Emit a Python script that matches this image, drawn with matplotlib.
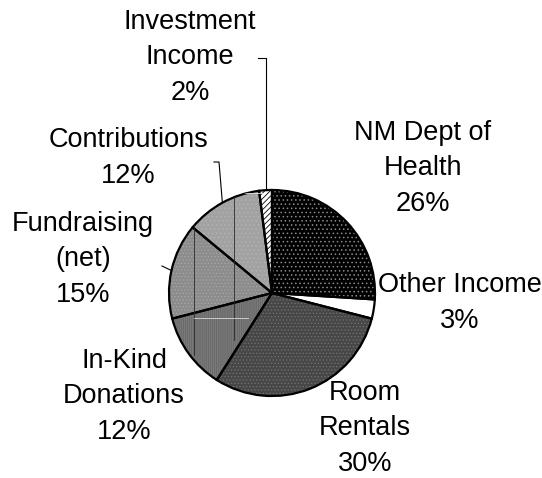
import numpy as np
import matplotlib
matplotlib.use('Agg')
import matplotlib.pyplot as plt
from matplotlib.patches import Circle

labels = ['NM Dept of\nHealth', 'Other Income', 'Room\nRentals', 'In-Kind\nDonations',
          'Fundraising\n(net)', 'Contributions', 'Investment\nIncome']
shares = [26, 3, 30, 12, 15, 12, 2]

faces = ['#000000', '#ffffff', '#474747', '#6a6a6a', '#8c8c8c', '#a2a2a2', '#ffffff']
hatches = ['....', '', '.....', '||||||||', '.....', '....', '//////']
hatch_cols = ['#8a8a8a', '#ffffff', '#6e6e6e', '#7e7e7e', '#a4a4a4', '#b2b2b2', '#000000']

# baseline of the last line of each label, pixels from top-left
label_px = [(423, 211), (460, 328), (365, 471), (124, 439), (83, 302), (128, 183), (190, 100)]

W, H = 542, 478
cx, cy, R = 272, 293, 103

plt.rcParams['font.family'] = ['Liberation Sans', 'DejaVu Sans']
plt.rcParams['hatch.linewidth'] = 0.6

fig = plt.figure(figsize=(W / 100, H / 100), dpi=100)
ax = fig.add_axes([0, 0, 1, 1])

def flip(ws):
    # y axis runs downwards, so mirror the wedge angles
    for w in ws:
        t1, t2 = w.theta1, w.theta2
        w.set_theta1(-t2)
        w.set_theta2(-t1)

wedges, _ = ax.pie(shares, startangle=90, counterclock=False, radius=R, center=(cx, cy),
                   colors=faces, wedgeprops=dict(linewidth=0), frame=True)
flip(wedges)
for w, h, hc in zip(wedges, hatches, hatch_cols):
    w.set_hatch(h)
    w.set_edgecolor(hc)

# scan-line streaks seen inside the left part of the pie
clip = Circle((cx, cy), R, transform=ax.transData, facecolor='none', edgecolor='none')
ax.add_patch(clip)
streaks = [([194, 194], [215, 355], '#2a2a2a'), ([234, 234], [190, 340], '#2a2a2a'),
           ([234, 262], [193, 193], '#e6e6e6'), ([194, 248], [318, 318], '#d8d8d8')]
for xs, ys, c in streaks:
    ln, = ax.plot(xs, ys, color=c, linewidth=0.6)
    ln.set_clip_path(clip)

outl, _ = ax.pie(shares, startangle=90, counterclock=False, radius=R, center=(cx, cy),
                 colors=['none'] * len(shares),
                 wedgeprops=dict(linewidth=1.6, edgecolor='black'), frame=True)
flip(outl)

for lab, s, (x, y) in zip(labels, shares, label_px):
    ax.text(x, y, '%s\n%d%%' % (lab, s), ha='center', va='baseline', fontsize=19.5,
            linespacing=1.48, color='black')

# leader lines for the small wedges on the left/top
cum = np.cumsum([0] + shares)
def edge_point(i):
    mid = (cum[i] + cum[i + 1]) / 2.0
    ang = np.deg2rad(90 - mid / 100.0 * 360)
    return cx + R * np.cos(ang), cy - R * np.sin(ang)

leaders = {6: [(None, 58), (258, 58)], 5: [(219, 162), (214, 162)], 4: [(162, 266)]}
for i, pts in leaders.items():
    x0, y0 = edge_point(i)
    xs = [x0] + [x0 if p[0] is None else p[0] for p in pts]
    ys = [y0] + [p[1] for p in pts]
    ax.plot(xs, ys, color='black', linewidth=0.8)

ax.set_xlim(0, W)
ax.set_ylim(H, 0)
ax.axis('off')

fig.savefig('out.png', dpi=100)
